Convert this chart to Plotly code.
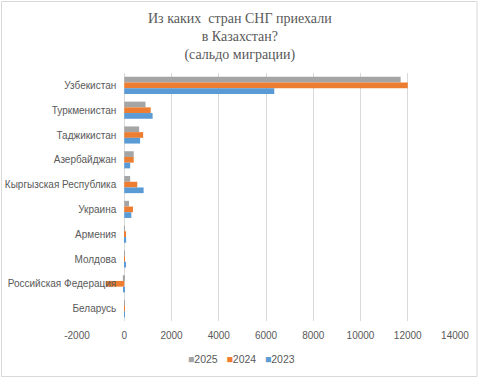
import plotly.graph_objects as go

countries = ["Узбекистан", "Туркменистан", "Таджикистан", "Азербайджан",
             "Кыргызская Республика", "Украина", "Армения", "Молдова",
             "Российская Федерация", "Беларусь"]
v2025 = [11700, 900, 630, 400, 250, 200, 20, 10, -60, 5]
v2024 = [12000, 1120, 800, 400, 550, 370, 60, 30, -780, 5]
v2023 = [6350, 1200, 670, 250, 820, 300, 80, 40, -30, 5]
x_ticks = [-2000, 0, 2000, 4000, 6000, 8000, 10000, 12000, 14000]
series = [("2025", v2025, "#A5A5A5"), ("2024", v2024, "#ED7D31"), ("2023", v2023, "#5B9BD5")]

W, H = 480, 386
ML, MR, MT, MB = 77, 25, 73, 65
X_MIN, X_MAX = -2000, 14000

fig = go.Figure()
for name, vals, col in series:
    fig.add_trace(go.Bar(y=countries, x=vals, name=name, orientation="h",
                         marker=dict(color=col, line=dict(width=0))))

pw = W - ML - MR
ph = H - MT - MB
def px_to_paper_x(px):
    return (px - ML) / pw
def px_to_paper_y(py):
    return (H - MB - py) / ph

fig.add_shape(type="rect", xref="paper", yref="paper",
              x0=px_to_paper_x(1.5), x1=px_to_paper_x(477),
              y0=px_to_paper_y(1.5), y1=px_to_paper_y(376.5),
              line=dict(color="#D9D9D9", width=1), layer="below")

fig.add_annotation(
    text="Из каких  стран СНГ приехали<br>в Казахстан?<br>(сальдо миграции)",
    xref="paper", yref="paper", x=px_to_paper_x(240), y=px_to_paper_y(9),
    xanchor="center", yanchor="top", showarrow=False, align="center",
    font=dict(family="Liberation Serif", size=14, color="#595959"))

legend_txt = "   ".join(
    f"<span style='color:{col}'>■</span>{name}" for name, _, col in series)
fig.add_annotation(
    text=legend_txt, xref="paper", yref="paper",
    x=px_to_paper_x(241), y=px_to_paper_y(359),
    xanchor="center", yanchor="middle", showarrow=False,
    font=dict(family="Liberation Sans", size=10.5, color="#595959"))

zero_pos = (0 - X_MIN) / (X_MAX - X_MIN)

fig.update_layout(
    width=W, height=H,
    margin=dict(l=ML, r=MR, t=MT, b=MB, autoexpand=False),
    paper_bgcolor="white", plot_bgcolor="white",
    barmode="group", bargap=0.31, bargroupgap=0,
    font=dict(family="Liberation Sans", size=10, color="#595959"),
    xaxis=dict(range=[X_MIN, X_MAX], tickvals=x_ticks,
               ticktext=[str(t) for t in x_ticks],
               showgrid=True, gridcolor="#D9D9D9", gridwidth=1,
               zeroline=True, zerolinecolor="#D9D9D9", zerolinewidth=1,
               showline=False, ticks="", tickfont=dict(size=10, color="#595959"),
               automargin=False, ticklabelstandoff=7),
    yaxis=dict(autorange="reversed", showgrid=False, showline=False, ticks="",
               tickfont=dict(size=10, color="#595959"), automargin=False,
               anchor="free", position=zero_pos, ticklabelstandoff=8),
    showlegend=False,
)
fig.write_html("out.html", config={"displayModeBar": False},
               post_script="document.body.style.margin='0';")
